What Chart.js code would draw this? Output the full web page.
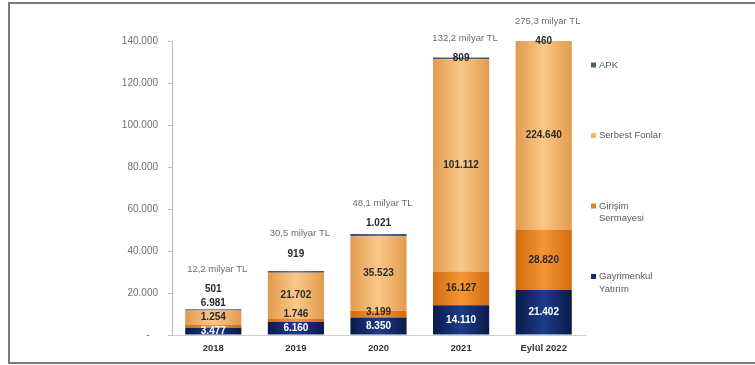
<!DOCTYPE html>
<html lang="tr">
<head>
<meta charset="utf-8">
<title>Fon büyüklükleri</title>
<script src="https://cdn.jsdelivr.net/npm/chart.js@4.4.1/dist/chart.umd.min.js"></script>
<style>
  html, body { margin: 0; padding: 0; background: #fff; overflow: hidden; }
  #wrap { position: relative; width: 755px; height: 365px; }
  #frame {
    position: absolute; left: 8px; top: 2px; width: 760px; height: 362px;
    border-left: 2px solid #7a7a7a; border-top: 2px solid #7a7a7a; border-bottom: 2px solid #7a7a7a;
    box-sizing: border-box; pointer-events: none;
  }
</style>
</head>
<body>
<div id="wrap">
  <canvas id="fonChart"></canvas>
  <div id="frame"></div>
</div>
<script>
// milyon TL
const categories = ['2018', '2019', '2020', '2021', 'Eylül 2022'];
const gayrimenkul = [3477, 6160, 8350, 14110, 21402];
const girisim = [1254, 1746, 3199, 16127, 28820];
const serbest = [6981, 21702, 35523, 101112, 224640];
const apk = [501, 919, 1021, 809, 460];
const seriesNames = ['Gayrimenkul Yatırım', 'Girişim Sermayesi', 'Serbest Fonlar', 'APK'];

const BAR_RATIO = 0.68;
const FONT = '"Liberation Sans", Arial, sans-serif';

function fmt(n) {
    return String(n).replace(/\B(?=(\d{3})+(?!\d))/g, '.');
}

// silindir görünümü: kenarlar koyu, orta açık
function cylinder(edge, mid) {
    return (c) => {
        const chart = c.chart;
        const area = chart.chartArea;
        if (!area || c.type !== 'data') return mid;
        const w = (area.right - area.left) / categories.length * BAR_RATIO;
        const xc = chart.scales.x.getPixelForValue(c.dataIndex);
        const g = chart.ctx.createLinearGradient(xc - w / 2, 0, xc + w / 2, 0);
        g.addColorStop(0, edge);
        g.addColorStop(0.5, mid);
        g.addColorStop(1, edge);
        return g;
    };
}

const palette = [
    { edge: '#0a1b4c', mid: '#1d3b8a', solid: '#14296e', text: '#ffffff' },
    { edge: '#d36c10', mid: '#f59634', solid: '#e8821e', text: '#2a2a2a' },
    { edge: '#e29b4e', mid: '#fac888', solid: '#f5b56a', text: '#2a2a2a' },
    { edge: '#3d4b68', mid: '#66769a', solid: '#4d5d7a', text: '#2a2a2a' }
];

const seriesValues = [gayrimenkul, girisim, serbest, apk];

const datasets = seriesValues.map((vals, i) => ({
    label: seriesNames[i],
    data: vals,
    backgroundColor: cylinder(palette[i].edge, palette[i].mid),
    borderWidth: 0,
    barPercentage: BAR_RATIO,
    categoryPercentage: 1
}));

// segment değerleri, toplam etiketleri ve sağdaki açıklama
const labelPlugin = {
    id: 'fonLabels',
    afterDatasetsDraw(chart, args, opts) {
        const ctx = chart.ctx;
        const area = chart.chartArea;
        const clamp = v => Math.max(area.top, Math.min(area.bottom, v));
        ctx.save();
        ctx.textAlign = 'center';
        ctx.textBaseline = 'middle';

        categories.forEach((cat, i) => {
            let prevY = Infinity;
            let xc = 0;
            let total = 0;
            seriesValues.forEach((vals, d) => {
                const bar = chart.getDatasetMeta(d).data[i];
                xc = bar.x;
                total += vals[i];
                const top = clamp(bar.y);
                const base = clamp(bar.base);
                let y = (top + base) / 2;
                if (d === seriesValues.length - 1) y -= opts.apkLift[i];
                y = Math.min(y, prevY - opts.gap);
                prevY = y;
                ctx.font = 'bold 10px ' + FONT;
                ctx.fillStyle = palette[d].text;
                ctx.fillText(fmt(vals[i]), xc, y);
            });
            const totalText = (total / 1000).toFixed(1).replace('.', ',') + ' milyar TL';
            ctx.font = '9.5px ' + FONT;
            ctx.fillStyle = '#6e6e6e';
            ctx.fillText(totalText, xc + 4, prevY - 20);
        });

        // açıklama
        ctx.textAlign = 'left';
        ctx.font = '9.5px ' + FONT;
        const lx = 591;
        let ly = 65;
        for (let d = seriesNames.length - 1; d >= 0; d--) {
            ctx.fillStyle = palette[d].solid;
            ctx.fillRect(lx, ly - 2.5, 5, 5);
            ctx.fillStyle = '#5a5a5a';
            const words = seriesNames[d].split(' ');
            const lines = [];
            let line = '';
            words.forEach(w => {
                const t = line ? line + ' ' + w : w;
                if (line && ctx.measureText(t).width > 70) { lines.push(line); line = w; }
                else line = t;
            });
            lines.push(line);
            lines.forEach((l, k) => ctx.fillText(l, lx + 8, ly + k * 12.5));
            ly += 70.5;
        }
        ctx.restore();
    }
};

new Chart(document.getElementById('fonChart'), {
    type: 'bar',
    data: { labels: categories, datasets: datasets },
    plugins: [labelPlugin],
    options: {
        responsive: true,
        maintainAspectRatio: false,
        animation: false,
        layout: { padding: { left: 112, right: 170, top: 41, bottom: 0 } },
        plugins: {
            legend: { display: false },
            tooltip: { enabled: false },
            fonLabels: { gap: 14, apkLift: [0, 18, 12, 0, 0] }
        },
        scales: {
            x: {
                stacked: true,
                afterFit: s => { s.height = 30; },
                grid: { display: false, tickLength: 0 },
                border: { display: true, color: '#cfcfcf', width: 1 },
                ticks: {
                    padding: 8,
                    color: '#333',
                    font: { family: FONT, size: 9.5, weight: 'bold' }
                }
            },
            y: {
                stacked: true,
                min: 0,
                max: 140000,
                afterFit: s => { s.width = 60; },
                grid: { drawOnChartArea: false, tickLength: 4, color: '#bdbdbd' },
                border: { display: true, color: '#bdbdbd', width: 1 },
                ticks: {
                    stepSize: 20000,
                    padding: 10,
                    color: '#707070',
                    font: { family: FONT, size: 10 },
                    callback: v => v === 0 ? '-   ' : fmt(v)
                }
            }
        }
    }
});
</script>
</body>
</html>
